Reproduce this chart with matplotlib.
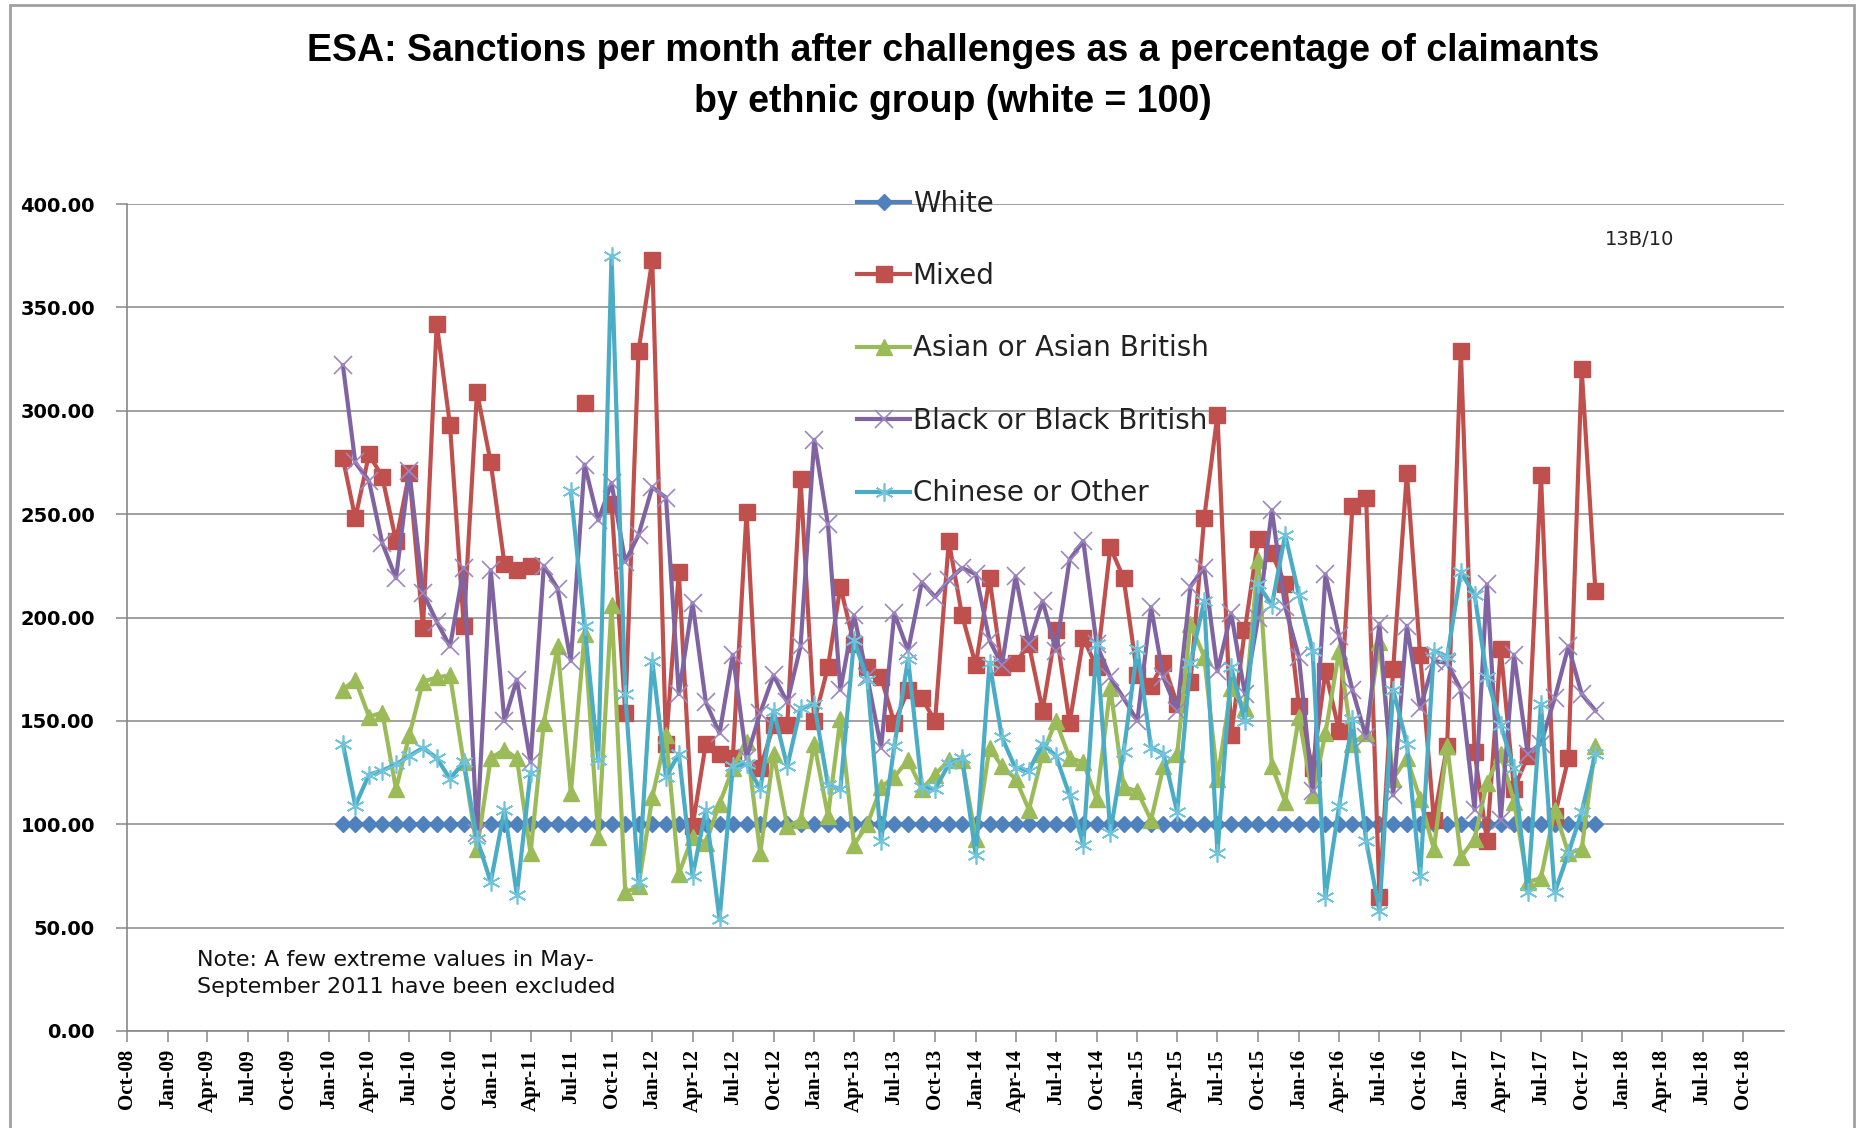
import numpy as np
import pandas as pd
import matplotlib
matplotlib.use("Agg")
import matplotlib.pyplot as plt
from matplotlib.patches import Rectangle

nan = np.nan

# monthly values, Feb-10 .. Nov-17 (94 months)
months = pd.date_range("2010-02-01", periods=94, freq="MS")

white = [100.0] * 94

mixed = [277, 248, 279, 268, 237, 270, 195, 342, 293, 196,
         309, 275, 226, 223, 225, nan, nan, nan, 304, nan,
         255, 154, 329, 373, 139, 222, 99, 139, 134, 132,
         251, 127, 148, 148, 267, 150, 176, 215, 187, 176,
         171, 149, 165, 161, 150, 237, 201, 177, 219, 176,
         178, 187, 155, 194, 149, 190, 176, 234, 219, 172,
         167, 178, 158, 169, 248, 298, 143, 194, 238, 231,
         216, 157, 127, 174, 145, 254, 258, 65, 175, 270,
         182, 102, 138, 329, 135, 92, 185, 117, 133, 269,
         104, 132, 320, 213]

asian = [165, 170, 152, 154, 117, 143, 169, 171, 172, 130,
         88, 132, 136, 132, 86, 149, 186, 115, 192, 94,
         206, 67, 70, 113, 143, 76, 94, 91, 110, 127,
         140, 86, 134, 99, 102, 139, 104, 151, 90, 100,
         118, 123, 131, 117, 124, 131, 131, 93, 137, 128,
         122, 107, 134, 150, 132, 130, 112, 166, 118, 116,
         102, 128, 134, 197, 181, 122, 166, 156, 228, 128,
         111, 152, 114, 144, 184, 139, 144, 188, 122, 132,
         112, 88, 138, 84, 93, 120, 134, 111, 72, 74,
         107, 86, 88, 138]

black = [322, 275, 266, 236, 219, 271, 212, 198, 186, 224,
         96, 223, 150, 170, 130, 225, 214, 179, 274, 247,
         265, 227, 240, 263, 258, 163, 207, 159, 144, 182,
         132, 154, 172, 159, 186, 286, 245, 165, 201, 171,
         137, 202, 184, 217, 210, 218, 224, 221, 189, 177,
         220, 187, 208, 184, 228, 237, 187, 171, 161, 150,
         205, 171, 155, 215, 224, 174, 202, 163, 200, 252,
         205, 181, 116, 221, 191, 165, 142, 197, 114, 196,
         156, 179, 178, 165, 107, 216, 102, 182, 134, 139,
         161, 186, 163, 155]

chinese = [139, 109, 124, 126, 129, 133, 137, 132, 122, 130,
           93, 72, 107, 66, 125, nan, nan, 261, 196, 131,
           375, 163, 72, 179, 123, 134, 75, 107, 54, 128,
           129, 117, 155, 128, 156, 158, 119, 117, 189, 170,
           92, 138, 180, 118, 117, 129, 132, 85, 178, 142,
           127, 126, 139, 133, 114, 90, 187, 96, 135, 185,
           137, 134, 106, 178, 208, 86, 176, 150, 216, 206,
           240, 211, 184, 65, 109, 151, 92, 58, 165, 139,
           75, 184, 181, 222, 211, 171, 148, 127, 67, 158,
           67, 86, 106, 134]

tick_dates = pd.date_range("2008-10-01", "2018-10-01", freq="3MS")
tick_labels = [d.strftime("%b-%y") for d in tick_dates]
y_ticks = [0, 50, 100, 150, 200, 250, 300, 350, 400]

fig = plt.figure(figsize=(18.61, 11.28), dpi=100)
ax = fig.add_axes([0.0682, 0.086, 0.8904, 0.7331])

ax.plot(months, white, color="#4F81BD", lw=3, marker="D", ms=8,
        mfc="#4F81BD", mec="#4F81BD", label="White")
ax.plot(months, mixed, color="#C0504D", lw=3, marker="s", ms=12,
        mfc="#C0504D", mec="#C0504D", label="Mixed")
ax.plot(months, asian, color="#9BBB59", lw=3, marker="^", ms=12,
        mfc="#9BBB59", mec="#9BBB59", label="Asian or Asian British")
ax.plot(months, black, color="#8064A2", lw=3, marker="x", ms=13,
        mew=1.2, mec="#9D87C0", label="Black or Black British")
ax.plot(months, chinese, color="#4BACC6", lw=3, marker=(6, 2, 0), ms=13,
        mew=1.2, mec="#6FC3DA", label="Chinese or Other")

ax.set_xlim(pd.Timestamp("2008-10-01"), pd.Timestamp("2019-01-01"))
ax.set_ylim(0, 400)
ax.set_yticks(y_ticks)
ax.set_yticklabels(["%.2f" % v for v in y_ticks], fontsize=14,
                   fontweight="bold", family="DejaVu Sans")
ax.set_xticks(tick_dates)
ax.set_xticklabels(tick_labels, rotation=90, fontsize=15,
                   fontweight="bold", family="Liberation Serif")
ax.yaxis.grid(True, color="#878787", lw=1.1)
ax.set_axisbelow(True)
for s in ["top", "right"]:
    ax.spines[s].set_visible(False)
for s in ["left", "bottom"]:
    ax.spines[s].set_color("#878787")
    ax.spines[s].set_linewidth(1.2)
ax.tick_params(axis="both", color="#878787", length=8, width=1.1)
ax.tick_params(axis="y", pad=15)
ax.tick_params(axis="x", pad=5)

leg = ax.legend(loc="upper left", bbox_to_anchor=(0.434, 1.031),
                frameon=False, fontsize=20, handlelength=1.9,
                handletextpad=0.1, labelspacing=1.6, borderaxespad=0)
for t in leg.get_texts():
    t.set_color("#222222")

title_font = ["Liberation Sans", "DejaVu Sans"]
fig.text(0.512, 0.955, "ESA: Sanctions per month after challenges as a percentage of claimants",
         ha="center", va="center", fontsize=27, fontweight="bold", family=title_font)
fig.text(0.512, 0.910, "by ethnic group (white = 100)",
         ha="center", va="center", fontsize=27, fontweight="bold", family=title_font)

fig.text(0.881, 0.788, "13B/10", ha="center", va="center", fontsize=14,
         color="#222222")
fig.text(0.106, 0.137, "Note: A few extreme values in May-\nSeptember 2011 have been excluded",
         ha="left", va="center", fontsize=16, linespacing=1.4, color="#111111")

fig.patches.append(Rectangle((0.0055, -0.01), 0.9905, 1.006, transform=fig.transFigure,
                             fill=False, edgecolor="#A0A0A0", lw=2))

fig.savefig("out.png", dpi=100, facecolor="white")
